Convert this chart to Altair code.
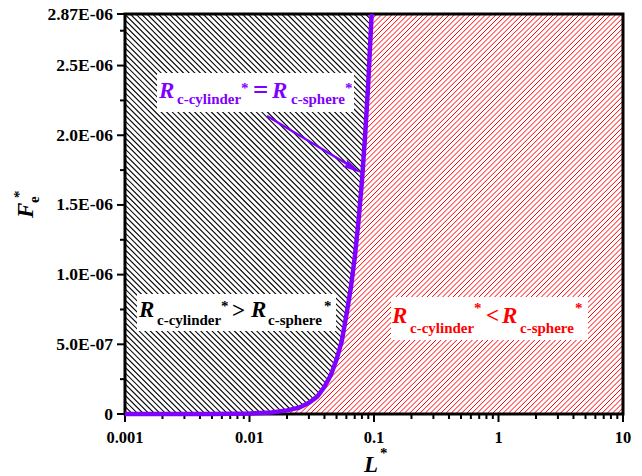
import altair as alt
import pandas as pd
import numpy as np

# ---------------- data ----------------
L_vals = [0.001, 0.005, 0.01, 0.015, 0.02, 0.025, 0.03, 0.035, 0.04, 0.045,
          0.05, 0.055, 0.06, 0.065, 0.07, 0.075, 0.08, 0.085, 0.09, 0.0957]
F_vals = [0.0, 0.0004e-6, 0.0033e-6, 0.011e-6, 0.026e-6, 0.045e-6, 0.080e-6,
          0.125e-6, 0.195e-6, 0.28e-6, 0.39e-6, 0.52e-6, 0.71e-6, 0.90e-6,
          1.12e-6, 1.38e-6, 1.67e-6, 2.01e-6, 2.38e-6, 2.87e-6]

x_ticks = [0.001, 0.01, 0.1, 1, 10]
x_tick_labels = ["0.001", "0.01", "0.1", "1", "10"]
y_ticks = [0, 5e-7, 1e-6, 1.5e-6, 2e-6, 2.5e-6, 2.87e-6]
y_tick_labels = ["0", "5.0E-07", "1.0E-06", "1.5E-06", "2.0E-06", "2.5E-06", "2.87E-06"]
x_minor = [m * d for d in [0.001, 0.01, 0.1, 1] for m in range(2, 10)]
y_minor = [2.5e-7, 7.5e-7, 1.25e-6, 1.75e-6, 2.25e-6, 2.75e-6]

lab_equal = ["R", "c-cylinder", "*", "=", "R", "c-sphere", "*"]
lab_greater = ["R", "c-cylinder", "*", ">", "R", "c-sphere", "*"]
lab_less = ["R", "c-cylinder", "*", "<", "R", "c-sphere", "*"]

XMIN, XMAX = 0.001, 10
YMAX = 2.87e-6

# ---------------- layout ----------------
W, H = 498, 400
LEFT, TOP = 125, 14
PURPLE = "#7f00ff"
FONT = "Liberation Serif"

# ---------------- hatch geometry ----------------
cpx = (np.log10(L_vals) - np.log10(XMIN)) / (np.log10(XMAX) - np.log10(XMIN)) * W
cpy = np.array(F_vals) / YMAX * H
px_top = cpx[-1]
xs = np.arange(0, W + 0.001, 0.25)
curve_at = np.interp(xs, cpx, cpy)


def hatch(direction, spacing, region, phase=0.0):
    segs = []
    if direction == "down":
        cs = np.arange(phase, W + H, spacing)
    else:
        cs = np.arange(-W + phase, H, spacing)
    for c in cs:
        py = c - xs if direction == "down" else xs + c
        inside = (py >= 0) & (py <= H)
        if region == "left":
            inside &= (py >= curve_at) & (xs <= px_top)
        else:
            inside &= (py <= curve_at) | (xs > px_top)
        d = np.diff(np.concatenate([[0], inside.astype(int), [0]]))
        starts = np.flatnonzero(d == 1)
        ends = np.flatnonzero(d == -1) - 1
        for a, b in zip(starts, ends):
            if b > a:
                segs.append((xs[a], py[a], xs[b], py[b]))
    rows = []
    for (x1, y1, x2, y2) in segs:
        rows.append({
            "x": 10 ** (x1 / W * 4 - 3), "y": y1 / H * YMAX,
            "x2": 10 ** (x2 / W * 4 - 3), "y2": y2 / H * YMAX,
        })
    return pd.DataFrame(rows)


black_h = hatch("down", 5.6, "left", 2.0)
red_h = hatch("up", 5.2, "right", 1.0)

xscale = alt.Scale(type="log", domain=[XMIN, XMAX], nice=False)
yscale = alt.Scale(domain=[0, YMAX], nice=False, zero=False)


def X(field):
    return alt.X(field, scale=xscale, axis=None)


def Y(field):
    return alt.Y(field, scale=yscale, axis=None)


black_layer = alt.Chart(black_h).mark_rule(color="black", strokeWidth=1.1, clip=True).encode(
    x=X("x:Q"), y=Y("y:Q"), x2="x2:Q", y2="y2:Q")
red_layer = alt.Chart(red_h).mark_rule(color="#ff0000", strokeWidth=1, clip=True).encode(
    x=X("x:Q"), y=Y("y:Q"), x2="x2:Q", y2="y2:Q")

curve_df = pd.DataFrame({"L": L_vals, "F": F_vals})
curve = alt.Chart(curve_df).mark_line(color=PURPLE, strokeWidth=4.5).encode(
    x=X("L:Q"), y=Y("F:Q"), order="L:Q")

one = pd.DataFrame({"k": [0]})


def box(x1, y1, x2, y2):
    return alt.Chart(one).mark_rect(color="white").encode(
        x=alt.value(x1 - LEFT), x2=alt.value(x2 - LEFT),
        y=alt.value(y1 - TOP), y2=alt.value(y2 - TOP),
    )


def txt(s, x, y, size, color, italic=False, angle=0):
    return alt.Chart(pd.DataFrame({"t": [s]})).mark_text(
        font=FONT, fontWeight="bold", fontStyle="italic" if italic else "normal",
        fontSize=size, color=color, align="left", baseline="alphabetic", angle=angle,
    ).encode(text="t:N", x=alt.value(x - LEFT), y=alt.value(y - TOP))


def rich(parts, xs_, ys_, color, big=23, small=15, op=24):
    layers = []
    kinds = ["R", "sub", "sup", "op", "R", "sub", "sup"]
    for p, k, x, y in zip(parts, kinds, xs_, ys_):
        if k == "R":
            layers.append(txt(p, x, y, big, color, italic=True))
        elif k == "op":
            layers.append(txt(p, x, y, op, color))
        else:
            layers.append(txt(p, x, y, small, color))
    return layers


layers = [black_layer, red_layer]
layers += [box(157, 73, 354, 112), box(137, 294, 336, 331), box(391, 297, 588, 340)]

# ticks (drawn under the curve)
xt_df = pd.DataFrame({"v": x_ticks, "lab": x_tick_labels})
yt_df = pd.DataFrame({"v": y_ticks, "lab": y_tick_labels})
layers.append(alt.Chart(xt_df).mark_rule(color="black", strokeWidth=2).encode(
    x=X("v:Q"), y=alt.value(H), y2=alt.value(H + 8)))
layers.append(alt.Chart(yt_df).mark_rule(color="black", strokeWidth=2).encode(
    y=Y("v:Q"), x=alt.value(-8), x2=alt.value(0)))
layers.append(alt.Chart(pd.DataFrame({"m": x_minor})).mark_rule(color="black", strokeWidth=2).encode(
    x=X("m:Q"), y=alt.value(H), y2=alt.value(H + 5)))
layers.append(alt.Chart(pd.DataFrame({"m": y_minor})).mark_rule(color="black", strokeWidth=2).encode(
    y=Y("m:Q"), x=alt.value(-5), x2=alt.value(0)))

# frame
layers.append(alt.Chart(one).mark_rect(fill=None, stroke="black", strokeWidth=3, fillOpacity=0).encode(
    x=alt.value(0), x2=alt.value(W), y=alt.value(0), y2=alt.value(H)))

layers.append(curve)

# tick labels
layers.append(alt.Chart(xt_df).mark_text(
    font=FONT, fontWeight="bold", fontSize=16.5, color="black", align="center", baseline="alphabetic").encode(
    x=X("v:Q"), y=alt.value(H + 29), text="lab:N"))
layers.append(alt.Chart(yt_df).mark_text(
    font=FONT, fontWeight="bold", fontSize=17.5, color="black", align="right", baseline="alphabetic", dy=5.5).encode(
    y=Y("v:Q"), x=alt.value(-12), text="lab:N"))

# arrow
layers.append(alt.Chart(one).mark_rule(color=PURPLE, strokeWidth=2.5).encode(
    x=alt.value(267 - LEFT), x2=alt.value(352 - LEFT),
    y=alt.value(116 - TOP), y2=alt.value(167 - TOP)))
layers.append(alt.Chart(one).mark_point(
    shape="M1,0L-1,-0.42L-0.65,0L-1,0.42Z", filled=True, color=PURPLE, opacity=1,
    size=400, angle=31, strokeWidth=0).encode(
    x=alt.value(353 - LEFT), y=alt.value(168 - TOP)))

layers += rich(lab_equal, [159, 177, 241, 253, 272, 291, 345], [98, 104, 93, 99, 98, 104, 93], PURPLE, op=27)
layers += rich(lab_greater, [139, 157, 221, 232, 251, 268, 324], [317, 325, 311, 318, 317, 325, 311], "black", op=23)
layers += rich(lab_less, [392, 410, 474, 486, 502, 520, 575], [323, 333, 313, 323, 323, 333, 313], "#ff0000", op=23)

# axis titles
layers.append(txt("L", 364, 472, 23, "black", italic=True))
layers.append(txt("*", 380, 458, 15, "black"))
layers.append(txt("F", 33, 218, 23, "black", italic=True, angle=270))
layers.append(txt("e", 39, 203, 15, "black", angle=270))
layers.append(txt("*", 24, 198, 15, "black", angle=270))

chart = alt.layer(*layers).properties(
    width=W, height=H,
    background="white",
    autosize=alt.AutoSizeParams(type="none"),
    padding={"left": LEFT, "top": TOP, "right": 642 - LEFT - W, "bottom": 476 - TOP - H},
).configure_view(stroke=None)

chart.save("out.html", embed_options={"renderer": "svg", "actions": False})
